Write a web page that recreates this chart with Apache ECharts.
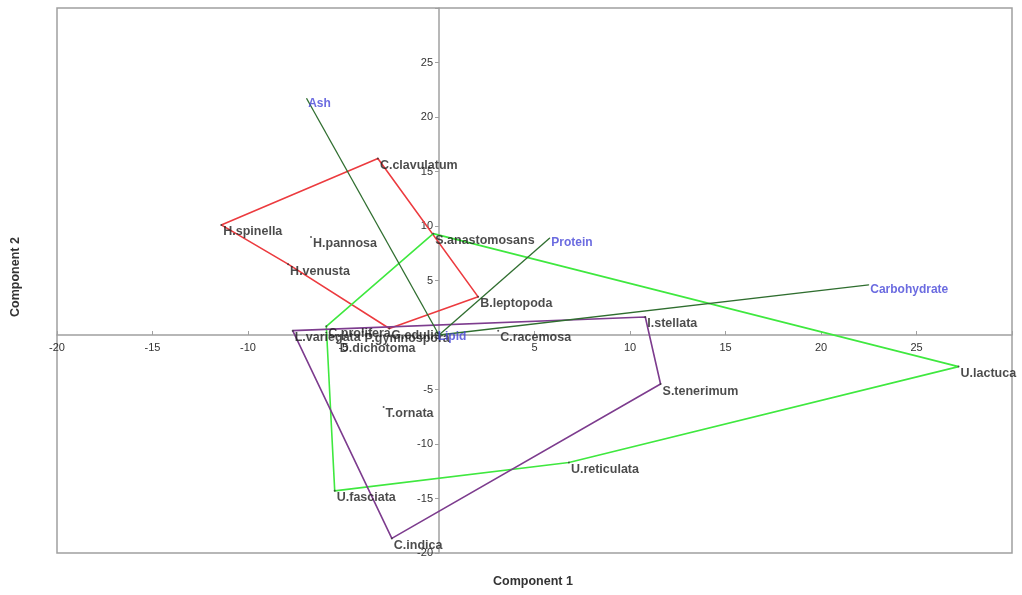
<!DOCTYPE html>
<html>
<head>
<meta charset="utf-8">
<script src="https://cdn.jsdelivr.net/npm/echarts@6/dist/echarts.min.js"></script>
<style>
  html, body { margin: 0; padding: 0; background: #fff; }
  #main { width: 1022px; height: 595px; }
</style>
</head>
<body>
<div id="main"></div>
<script>
// 样本得分
const sampleNames = ['H.spinella', 'H.pannosa', 'H.venusta', 'C.clavulatum', 'B.leptopoda', 'G.edulis',
  'S.anastomosans', 'U.lactuca', 'U.reticulata', 'U.fasciata', 'C.prolifera', 'C.racemosa',
  'L.variegata', 'P.gymnospora', 'D.dichotoma', 'I.stellata', 'S.tenerimum', 'C.indica', 'T.ornata'];
const sampleX = [-11.4, -6.7, -7.9, -3.2, 2.05, -2.6,
  -0.3, 27.2, 6.8, -5.46, -5.9, 3.1,
  -7.66, -4.0, -5.3, 10.8, 11.6, -2.47, -2.9];
const sampleY = [10.1, 9.0, 6.5, 16.2, 3.5, 0.6,
  9.3, -2.9, -11.7, -14.3, 0.8, 0.4,
  0.4, 0.3, -0.6, 1.65, -4.5, -18.66, -6.6];

// 凸包（顺序）
const redHull = ['H.spinella', 'C.clavulatum', 'B.leptopoda', 'G.edulis', 'H.venusta'];
const greenHull = ['S.anastomosans', 'U.lactuca', 'U.reticulata', 'U.fasciata', 'C.prolifera'];
const purpleHull = ['L.variegata', 'I.stellata', 'S.tenerimum', 'C.indica'];

// 载荷向量
const loadingNames = ['Ash', 'Protein', 'Carbohydrate', 'Lipid'];
const loadingX = [-6.93, 5.8, 22.5, -0.15];
const loadingY = [21.7, 8.9, 4.6, 0.3];

const pointOf = name => {
  const i = sampleNames.indexOf(name);
  return [sampleX[i], sampleY[i]];
};
const hullData = hull => {
  const pts = hull.map(pointOf);
  pts.push(pts[0]);
  return pts;
};
const hullSeries = (hull, color) => ({
  type: 'line',
  data: hullData(hull),
  symbol: 'none',
  silent: true,
  lineStyle: { color: color, width: 1.6 },
  z: 2,
});

const chart = echarts.init(document.getElementById('main'));

const tickLabel = {
  fontFamily: 'Liberation Sans',
  fontSize: 11,
  color: '#333',
};

// 坐标轴移到 0 处（连同刻度标签）
const GRID_L = 57, GRID_R = 10, GRID_T = 8, GRID_B = 42;
const plotW = 1022 - GRID_L - GRID_R;
const plotH = 595 - GRID_T - GRID_B;
const xZeroOffset = -(0 - (-20)) / 50 * plotW;
const yZeroOffset = -(0 - (-20)) / 50 * plotH;

const option = {
  animation: false,
  backgroundColor: '#fff',
  grid: {
    left: GRID_L,
    right: GRID_R,
    top: GRID_T,
    bottom: GRID_B,
    show: true,
    borderColor: '#a0a0a0',
    borderWidth: 1.5,
  },
  xAxis: {
    type: 'value',
    min: -20,
    max: 30,
    interval: 5,
    offset: yZeroOffset,
    splitLine: { show: false },
    axisLine: { onZero: false, lineStyle: { color: '#a0a0a0', width: 1.5 } },
    axisTick: { inside: true, length: 4, lineStyle: { color: '#a0a0a0' } },
    axisLabel: Object.assign({}, tickLabel, {
      margin: 7,
      formatter: v => (v === 0 || v === 30 ? '' : v),
    }),
  },
  yAxis: {
    type: 'value',
    min: -20,
    max: 30,
    interval: 5,
    offset: xZeroOffset,
    splitLine: { show: false },
    axisLine: { onZero: false, lineStyle: { color: '#a0a0a0', width: 1.5 } },
    axisTick: { length: 4, lineStyle: { color: '#a0a0a0' } },
    axisLabel: Object.assign({}, tickLabel, {
      margin: 6,
      formatter: v => (v === 0 || v === 30 ? '' : v),
    }),
  },
  graphic: [
    {
      type: 'text',
      left: 493,
      top: 575,
      style: { text: 'Component 1', font: 'bold 12.5px "Liberation Sans"', fill: '#333' },
    },
    {
      type: 'text',
      x: 9,
      y: 317,
      rotation: Math.PI / 2,
      style: { text: 'Component 2', font: 'bold 12.5px "Liberation Sans"', fill: '#333' },
    },
  ],
  series: [
    hullSeries(redHull, '#ec3b3f'),
    hullSeries(greenHull, '#3fe83f'),
    hullSeries(purpleHull, '#7d3c8e'),
    // 载荷线
    ...loadingNames.map((n, i) => ({
      type: 'line',
      data: [[0, 0], [loadingX[i], loadingY[i]]],
      symbol: 'none',
      silent: true,
      lineStyle: { color: '#2f6e2f', width: 1.3 },
      z: 3,
    })),
    {
      type: 'scatter',
      data: loadingNames.map((n, i) => ({ name: n, value: [loadingX[i], loadingY[i]] })),
      symbolSize: 1,
      itemStyle: { color: '#2f6e2f' },
      label: {
        show: true,
        position: 'right',
        distance: 1,
        offset: [0, 5],
        formatter: '{b}',
        fontFamily: 'Liberation Sans',
        fontSize: 12,
        fontWeight: 'bold',
        color: '#4646d8',
      },
      z: 5,
    },
    {
      type: 'scatter',
      data: sampleNames.map((n, i) => ({ name: n, value: [sampleX[i], sampleY[i]] })),
      symbolSize: 2,
      itemStyle: { color: '#333' },
      label: {
        show: true,
        position: 'right',
        distance: 1,
        offset: [0, 7],
        formatter: '{b}',
        fontFamily: 'Liberation Sans',
        fontSize: 12.5,
        fontWeight: 'bold',
        color: '#1e1e1e',
      },
      z: 4,
    },
  ],
};

chart.setOption(option);
</script>
</body>
</html>
